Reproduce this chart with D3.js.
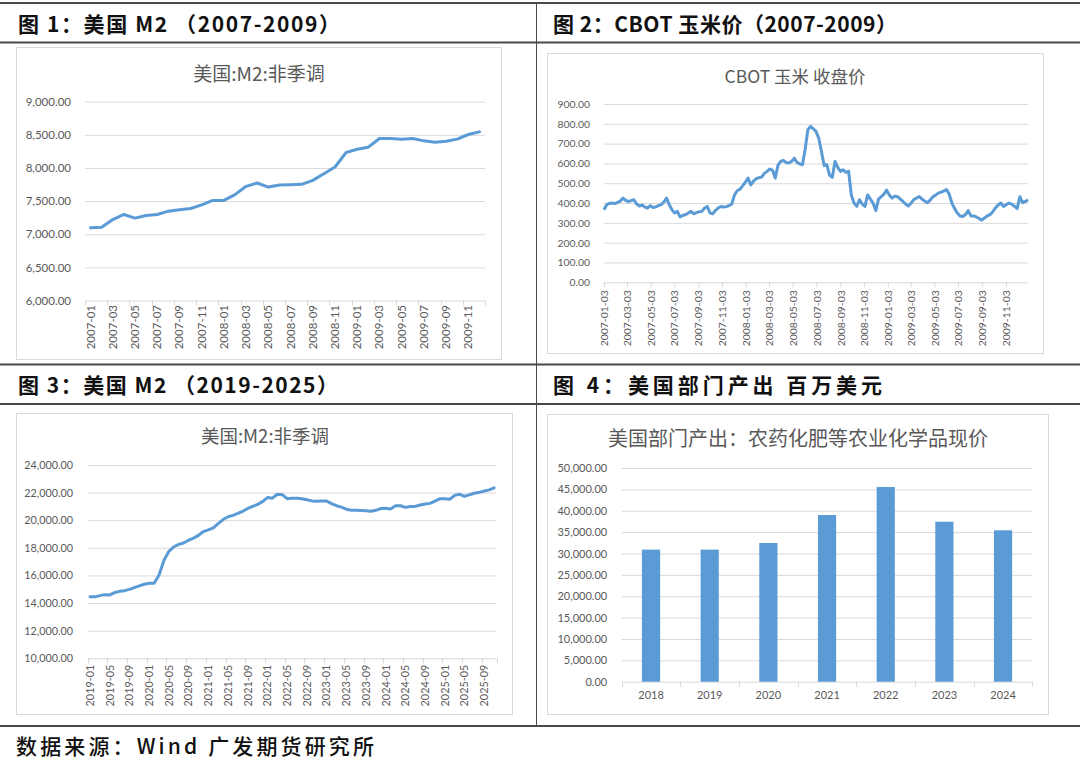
<!DOCTYPE html>
<html><head><meta charset="utf-8">
<script src="https://cdn.jsdelivr.net/npm/d3@7"></script>
<style>
html,body{margin:0;padding:0;background:#fff;}
svg{display:block;}
</style></head>
<body>
<svg id="chart" width="1080" height="762"></svg>
<script>
// ---------------- DATA ----------------
const headers = [
  "图 1：美国 M2 （2007-2009）",
  "图 2：CBOT 玉米价（2007-2009）",
  "图 3：美国 M2 （2019-2025）",
  "图 4：美国部门产出 百万美元"
];
const footerText = "数据来源：Wind 广发期货研究所";
const titles = ["美国:M2:非季调", "CBOT 玉米 收盘价", "美国:M2:非季调", "美国部门产出：农药化肥等农业化学品现价"];

// Chart 1: US M2 NSA 2007-01 .. 2009-12 (monthly)
const m2aMonths = d3.timeMonth.range(new Date(2007,0,1), new Date(2010,0,1)).map(d3.timeFormat("%Y-%m"));
const m2aValues = [7097,7106,7222,7298,7243,7283,7298,7348,7369,7389,7444,7510,
  7510,7597,7723,7773,7712,7743,7748,7753,7813,7914,8015,8233,
  8283,8314,8445,8445,8435,8445,8409,8389,8404,8435,8505,8545];
const m2aTicks = [6000,6500,7000,7500,8000,8500,9000];

// Chart 2: CBOT corn close, weekly readings from 2007-01-03
const cornStart = new Date(2007,0,3);
const cornEnd = new Date(2009,11,30);
const cornWeekly = [
  366,392,398,400,397,403,410,425,413,408,
  412,417,395,385,390,380,375,387,378,380,
  387,392,405,425,392,366,350,358,330,338,
  341,350,358,346,352,356,358,375,383,350,
  346,362,375,383,380,382,387,395,440,462,
  470,487,505,526,492,510,523,528,531,550,
  560,572,565,526,590,610,615,605,602,610,
  627,605,598,593,670,770,787,775,762,728,
  660,590,593,540,530,610,580,560,568,555,
  560,440,400,383,417,395,383,441,420,400,
  362,420,432,445,465,440,425,435,432,420,
  408,395,385,400,418,425,433,420,410,402,
  415,432,440,450,455,460,468,445,400,372,
  350,335,332,342,362,335,335,330,322,314,
  325,335,342,355,375,390,400,383,392,400,
  395,384,372,432,402,408,416];
const cornTicks = [0,100,200,300,400,500,600,700,800,900];
const cornLabelDates = d3.range(18).map(k => new Date(2007, 2*k, 3));

// Chart 3: US M2 NSA 2019-01 .. 2025-11 (monthly)
const m2bMonths = d3.timeMonth.range(new Date(2019,0,1), new Date(2025,11,1)).map(d3.timeFormat("%Y-%m"));
const m2bValues = [
  14450,14450,14540,14610,14590,14760,14850,14900,14990,15120,15240,15360,
  15430,15440,16030,17100,17750,18080,18250,18350,18550,18700,18900,19180,
  19300,19450,19750,20050,20250,20350,20500,20650,20850,21000,21150,21350,
  21640,21600,21880,21850,21560,21600,21600,21560,21480,21400,21380,21400,
  21390,21200,21050,20950,20800,20720,20720,20700,20680,20650,20720,20850,
  20860,20820,21050,21050,20930,21000,21000,21100,21180,21220,21380,21560,
  21560,21520,21800,21880,21730,21850,21950,22020,22120,22200,22340];
const m2bTicks = [10000,12000,14000,16000,18000,20000,22000,24000];

// Chart 4: US sector output, pesticides/fertilizers (million USD)
const barYears = ["2018","2019","2020","2021","2022","2023","2024"];
const barValues = [30900,30900,32450,39000,45550,37440,35420];
const barTicks = [0,5000,10000,15000,20000,25000,30000,35000,40000,45000,50000];

// ---------------- DRAW ----------------
const svg = d3.select("#chart");
const BLUE = "#5B9BD5", GRID = "#D9D9D9", TXT = "#595959", FRAME = "#4a4a4a";
const fmt2 = d3.format(",.2f");
const NUMFONT = "Lato, 'Liberation Sans', sans-serif";
const CJK = "'Noto Sans CJK SC', 'Noto Sans', sans-serif";

// frame
[[3,2],[42.5,2],[364.5,2],[404,2],[726,2]].forEach(([y,w]) =>
  svg.append("line").attr("x1",0).attr("x2",1080).attr("y1",y).attr("y2",y)
    .attr("stroke",FRAME).attr("stroke-width",w));
svg.append("line").attr("x1",536.5).attr("x2",536.5).attr("y1",3).attr("y2",726)
  .attr("stroke",FRAME).attr("stroke-width",1);

function heading(text, x, y, len, weight) {
  svg.append("text").attr("x",x).attr("y",y).attr("dominant-baseline","central")
    .attr("font-family",CJK).attr("font-size",21).attr("font-weight",weight)
    .attr("fill","#111").attr("textLength",len).attr("lengthAdjust","spacing").text(text);
}
heading(headers[0], 18, 23, 322, 700);
heading(headers[1], 553, 23, 344, 700);
heading(headers[2], 18, 384, 320, 700);
heading(headers[3], 553, 384, 329, 700);
heading(footerText, 16, 745, 358, 500);

function chartBox(x0,y0,x1,y1){
  svg.append("rect").attr("x",x0+0.5).attr("y",y0+0.5).attr("width",x1-x0).attr("height",y1-y0)
    .attr("fill","#fff").attr("stroke",GRID).attr("stroke-width",1);
}
function title(text,cx,cy,size){
  svg.append("text").attr("x",cx).attr("y",cy).attr("text-anchor","middle").attr("dominant-baseline","central")
    .attr("font-family",CJK).attr("font-size",size).attr("fill",TXT).text(text);
}
function yAxis(scale, ticks, x0, x1, pad, size){
  const g = svg.append("g").attr("transform",`translate(${x0},0)`)
    .call(d3.axisLeft(scale).tickValues(ticks).tickFormat(fmt2).tickSize(-(x1-x0)).tickPadding(pad));
  g.select(".domain").remove();
  g.selectAll(".tick line").attr("stroke",GRID).attr("stroke-width",1);
  g.selectAll(".tick text").attr("fill",TXT).attr("font-family",NUMFONT).attr("font-size",size);
  return g;
}
function rotLabels(g, off, size){
  g.select(".domain").remove();
  g.selectAll(".tick line").attr("stroke",GRID);
  g.selectAll(".tick text").attr("transform","rotate(-90)").attr("text-anchor","end")
    .attr("x",-off).attr("y",0).attr("dy","0.35em")
    .attr("fill",TXT).attr("font-family",NUMFONT).attr("font-size",size);
}
function bandEdgeTicks(xs, cats, every, yb, len){
  const edges = cats.filter((d,i)=> i%every===0).map(c => xs(c));
  edges.push(xs.range()[1]);
  svg.append("g").selectAll("line").data(edges).join("line")
    .attr("x1",d=>Math.round(d)+0.5).attr("x2",d=>Math.round(d)+0.5)
    .attr("y1",yb).attr("y2",yb+len).attr("stroke",GRID);
}

// ---- Chart 1 ----
chartBox(16,47,501,359);
title(titles[0], 259, 72, 19);
const y1 = d3.scaleLinear().domain([6000,9000]).range([300.5,101.7]);
const x1 = d3.scaleBand().domain(m2aMonths).range([85,485]);
yAxis(y1, m2aTicks, 85, 485, 14, 11.5);
bandEdgeTicks(x1, m2aMonths, 2, 300.5, 5);
rotLabels(svg.append("g").attr("transform","translate(0,300.5)")
  .call(d3.axisBottom(x1).tickValues(m2aMonths.filter((d,i)=>i%2===0)).tickSize(0)), 4.5, 11.5);
svg.append("path").datum(m2aValues)
  .attr("d", d3.line().x((d,i)=>x1(m2aMonths[i])+x1.bandwidth()/2).y(d=>y1(d)))
  .attr("fill","none").attr("stroke",BLUE).attr("stroke-width",3).attr("stroke-linejoin","round").attr("stroke-linecap","round");

// ---- Chart 2 ----
chartBox(547,53,1043,353);
title(titles[1], 795, 75, 17.5);
const y2 = d3.scaleLinear().domain([0,900]).range([282.3,104]);
const x2 = d3.scaleTime().domain([cornStart, cornEnd]).range([604,1028]);
yAxis(y2, cornTicks, 604, 1028, 14, 10.4);
rotLabels(svg.append("g").attr("transform","translate(0,282.3)")
  .call(d3.axisBottom(x2).tickValues(cornLabelDates).tickFormat(d3.timeFormat("%Y-%m-%d")).tickSize(5)), 8, 10.4);
const cornDates = cornWeekly.map((d,i)=> d3.timeDay.offset(cornStart, 7*i));
svg.append("path").datum(cornWeekly)
  .attr("d", d3.line().x((d,i)=>x2(cornDates[i])).y(d=>y2(d)))
  .attr("fill","none").attr("stroke",BLUE).attr("stroke-width",3).attr("stroke-linejoin","round");

// ---- Chart 3 ----
chartBox(16,413,512,714);
title(titles[2], 265, 435, 18.5);
const y3 = d3.scaleLinear().domain([10000,24000]).range([658.3,465]);
const x3 = d3.scaleBand().domain(m2bMonths).range([87.6,496.6]);
yAxis(y3, m2bTicks, 87.6, 496.6, 14.5, 10.8);
bandEdgeTicks(x3, m2bMonths, 4, 658.3, 5);
rotLabels(svg.append("g").attr("transform","translate(0,658.3)")
  .call(d3.axisBottom(x3).tickValues(m2bMonths.filter((d,i)=>i%4===0)).tickSize(0)), 6.5, 10.8);
svg.append("path").datum(m2bValues)
  .attr("d", d3.line().x((d,i)=>x3(m2bMonths[i])+x3.bandwidth()/2).y(d=>y3(d)))
  .attr("fill","none").attr("stroke",BLUE).attr("stroke-width",3).attr("stroke-linejoin","round").attr("stroke-linecap","round");

// ---- Chart 4 ----
chartBox(547,414,1048,714);
title(titles[3], 798, 437, 20);
const y4 = d3.scaleLinear().domain([0,50000]).range([681.7,468]);
const x4 = d3.scaleBand().domain(barYears).range([621.7,1032.4]).paddingInner(0.69).paddingOuter(0.345);
yAxis(y4, barTicks, 621.7, 1032.4, 14.5, 11);
const x4e = d3.scaleBand().domain(barYears).range([621.7,1032.4]);
bandEdgeTicks(x4e, barYears, 1, 681.7, 5);
const gx4 = svg.append("g").attr("transform","translate(0,681.7)")
  .call(d3.axisBottom(x4).tickSize(0).tickPadding(10));
gx4.select(".domain").remove();
gx4.selectAll(".tick text").attr("fill",TXT).attr("font-family",NUMFONT).attr("font-size",11);
svg.append("g").selectAll("rect").data(barValues).join("rect")
  .attr("x",(d,i)=>x4(barYears[i])).attr("width",x4.bandwidth())
  .attr("y",d=>y4(d)).attr("height",d=>y4(0)-y4(d)).attr("fill",BLUE);
</script>
</body></html>
